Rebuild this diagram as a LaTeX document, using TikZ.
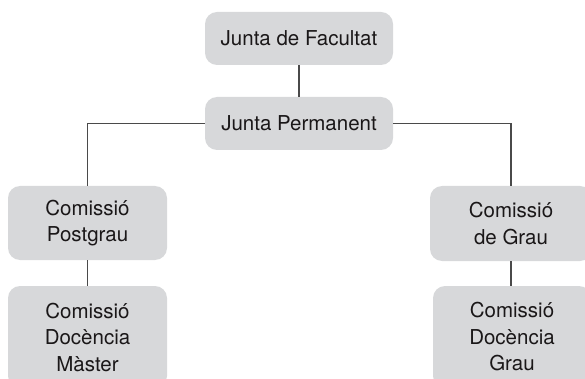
\documentclass[tikz,border=0pt]{standalone}
\usepackage{fontspec}
\setmainfont{TeX Gyre Heros}
\definecolor{boxfill}{HTML}{D7D8DA}
\definecolor{linecol}{HTML}{4A4A4A}
\definecolor{txtcol}{HTML}{1A1718}
\begin{document}
\begin{tikzpicture}[x=1pt,y=-1pt,
  orgbox/.style={fill=boxfill, draw=none, rounded corners=12pt, align=center,
    text=txtcol, font=\fontsize{20.5}{26.5}\selectfont, inner sep=0pt},
  conn/.style={draw=linecol, line width=1.2pt}]
\useasboundingbox (0,0) rectangle (585,379);
\clip (0,0) rectangle (585,379);
\node[orgbox, minimum width=188pt, minimum height=53pt] (jf) at (299,38.5) {Junta de Facultat};
\node[orgbox, minimum width=188pt, minimum height=53pt] (jp) at (299,123.5) {Junta Permanent};
\node[orgbox, minimum width=159pt, minimum height=74pt] (cp) at (87.5,223) {Comissió\\Postgrau};
\node[orgbox, minimum width=159pt, minimum height=102pt] (cm) at (87.5,337) {Comissió\\Docència\\Màster};
\node[orgbox, minimum width=162pt, minimum height=75pt] (cg) at (511,223.5) {Comissió\\de Grau};
\node[orgbox, minimum width=158pt, minimum height=102pt] (cdg) at (512,337) {Comissió\\Docència\\Grau};
\draw[conn] (jf.south) -- (jp.north);
\draw[conn] (jp.west) -| (cp.north);
\draw[conn] (jp.east) -| (cg.north);
\draw[conn] (cp.south) -- (cm.north);
\draw[conn] (cg.south) -- (cg.south |- cdg.north);
\end{tikzpicture}
\end{document}
